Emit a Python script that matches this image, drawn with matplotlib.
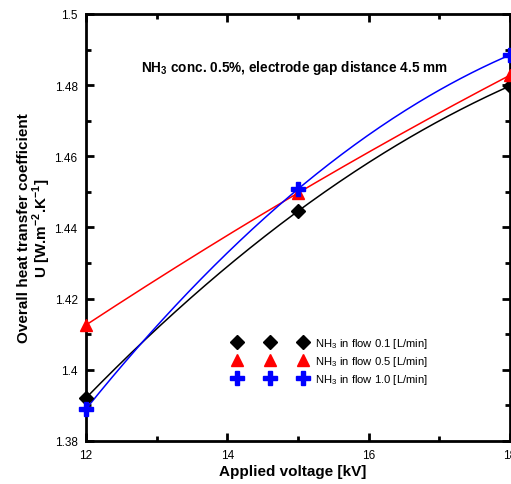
import numpy as np
import matplotlib
matplotlib.use('Agg')
import matplotlib.pyplot as plt
from matplotlib.lines import Line2D
from matplotlib.ticker import MultipleLocator

plt.rcParams['font.family'] = ['Liberation Sans', 'DejaVu Sans']
plt.rcParams['mathtext.fontset'] = 'custom'
plt.rcParams['mathtext.rm'] = 'Liberation Sans'
plt.rcParams['mathtext.bf'] = 'Liberation Sans:bold'

# data
voltage = [12, 15, 18]
u_flow01 = [1.3921, 1.4446, 1.4798]
u_flow05 = [1.4126, 1.4497, 1.4828]
u_flow10 = [1.3890, 1.4508, 1.4885]
labels = ['NH$_3$ in flow 0.1 [L/min]', 'NH$_3$ in flow 0.5 [L/min]', 'NH$_3$ in flow 1.0 [L/min]']

W, H = 511, 485
fig = plt.figure(figsize=(W / 100, H / 100), dpi=100)
ax = fig.add_axes([86 / W, (H - 442) / H, (510 - 86) / W, (442 - 15) / H])

styles = [('black', 'D', 7), ('red', '^', 8.5), ('blue', 'P', 9.5)]
handles = []
xs = np.linspace(12, 18, 200)
for yv, (col, mk, ms), lab in zip([u_flow01, u_flow05, u_flow10], styles, labels):
    coef = np.polyfit(voltage, yv, 2)  # smooth curve through the points
    ax.plot(xs, np.polyval(coef, xs), color=col, lw=1.1)
    ax.plot(voltage, yv, ls='none', marker=mk, ms=ms, color=col, mec=col, clip_on=False, zorder=5)
    handles.append(Line2D([], [], ls='none', marker=mk, ms=ms, color=col, mec=col, label=lab))

ax.set_xlim(12, 18)
ax.set_ylim(1.38, 1.5)
ax.xaxis.set_major_locator(MultipleLocator(2))
ax.xaxis.set_minor_locator(MultipleLocator(1))
ax.yaxis.set_minor_locator(MultipleLocator(0.01))
ax.set_yticks([1.38, 1.4, 1.42, 1.44, 1.46, 1.48, 1.5])
ax.set_yticklabels(['1.38', '1.4', '1.42', '1.44', '1.46', '1.48', '1.5'])
ax.tick_params(which='both', direction='in', top=True, right=True, width=2, labelsize=8.5, pad=6)
ax.tick_params(which='major', length=6)
ax.tick_params(which='minor', length=3.5)
for s in ax.spines.values():
    s.set_linewidth(2)

ax.set_xlabel('Applied voltage [kV]', fontsize=11, fontweight='bold', labelpad=4)
ax.xaxis.set_label_coords(0.487, -0.055)
ax.set_ylabel('Overall heat transfer coefficient\nU [W.m$^{\\mathbf{-2}}$.K$^{\\mathbf{-1}}$]',
              fontsize=11, fontweight='bold', labelpad=1, linespacing=1.0)

ax.text(0.492, 0.876, r'NH$_\mathbf{3}$ conc. 0.5%, electrode gap distance 4.5 mm',
        transform=ax.transAxes, ha='center', va='center', fontsize=9.8, fontweight='bold')

ax.legend(handles=handles, numpoints=3, frameon=False, fontsize=8.1,
          loc='center left', bbox_to_anchor=(0.347, 0.187), handlelength=6.5,
          handletextpad=0.8, labelspacing=0.35, borderpad=0, borderaxespad=0)

fig.savefig('out.png', dpi=100)
